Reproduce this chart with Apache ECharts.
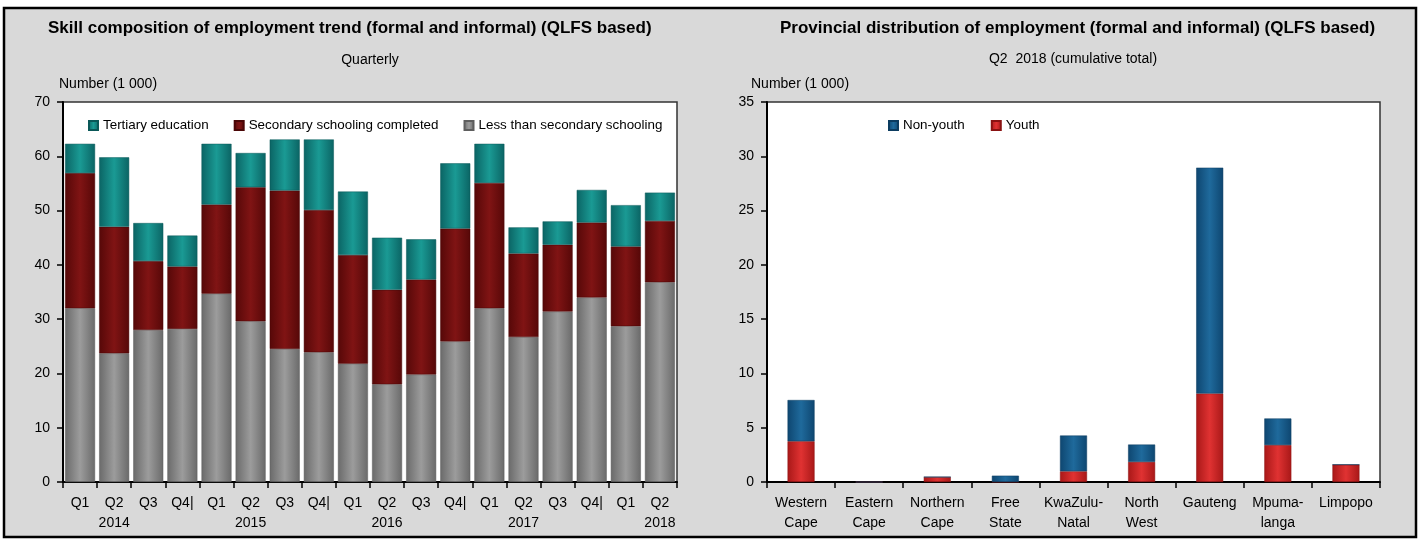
<!DOCTYPE html>
<html>
<head>
<meta charset="utf-8">
<script src="https://cdn.jsdelivr.net/npm/echarts@6/dist/echarts.min.js"></script>
<style>
html,body{margin:0;padding:0;background:#fff;}
#c{width:1419px;height:540px;}
</style>
</head>
<body>
<div id="c"></div>
<script>
// ---- Left chart data ----
const quarters = ['Q1','Q2\n2014','Q3','Q4|','Q1','Q2\n2015','Q3','Q4|','Q1','Q2\n2016','Q3','Q4|','Q1','Q2\n2017','Q3','Q4|','Q1','Q2\n2018'];
const lessThanSecondary = [32.0,23.7,28.0,28.2,34.7,29.6,24.5,23.9,21.8,18.0,19.8,25.9,32.0,26.7,31.4,34.0,28.7,36.8];
const secondaryCompleted = [24.9,23.3,12.7,11.5,16.4,24.7,29.2,26.2,20.0,17.4,17.5,20.8,23.1,15.4,12.3,13.8,14.7,11.3];
const tertiary = [5.4,12.8,7.0,5.7,11.2,6.3,9.4,13.0,11.7,9.6,7.4,12.0,7.2,4.8,4.3,6.0,7.6,5.2];
const leftTicks = [0,10,20,30,40,50,60,70];

// ---- Right chart data ----
const provinces = ['Western\nCape','Eastern\nCape','Northern\nCape','Free\nState','KwaZulu-\nNatal','North\nWest','Gauteng','Mpuma-\nlanga','Limpopo'];
const youth = [3.75,0,0.46,0,0.98,1.85,8.15,3.4,1.6];
const nonYouth = [3.8,0,0,0.58,3.3,1.6,20.8,2.45,0];
const rightTicks = [0,5,10,15,20,25,30,35];

const FONT = 'Liberation Sans, Arial, sans-serif';

function hgrad(edge, mid){
  return {type:'linear',x:0,y:0,x2:1,y2:0,colorStops:[
    {offset:0,color:edge},{offset:0.5,color:mid},{offset:1,color:edge}]};
}

const chart = echarts.init(document.getElementById('c'), null, {renderer:'canvas'});

const axisCommon = {
  axisLine:{show:true,onZero:false,lineStyle:{color:'#000',width:2}},
  axisTick:{show:true,length:6,lineStyle:{color:'#000',width:1.5}},
  splitLine:{show:false},
  axisLabel:{color:'#000',fontSize:14,fontFamily:FONT}
};

const option = {
  animation:false,
  backgroundColor:'#fff',
  textStyle:{fontFamily:FONT},
  graphic:[
    {type:'rect',z:-10,shape:{x:4,y:8,width:1412,height:529},style:{fill:'#d9d9d9',stroke:'#000',lineWidth:2.5}},
    {type:'text',x:48,y:28,style:{text:'Skill composition of employment trend (formal and informal) (QLFS based)',font:'bold 17px '+FONT,fill:'#000',verticalAlign:'middle'}},
    {type:'text',x:370,y:60,style:{text:'Quarterly',font:'14px '+FONT,fill:'#000',align:'center',verticalAlign:'middle'}},
    {type:'text',x:59,y:84,style:{text:'Number (1 000)',font:'14px '+FONT,fill:'#000',verticalAlign:'middle'}},
    {type:'text',x:780,y:28,style:{text:'Provincial distribution of employment (formal and informal) (QLFS based)',font:'bold 17px '+FONT,fill:'#000',verticalAlign:'middle'}},
    {type:'text',x:1073,y:59,style:{text:'Q2  2018 (cumulative total)',font:'14px '+FONT,fill:'#000',align:'center',verticalAlign:'middle'}},
    {type:'text',x:751,y:84,style:{text:'Number (1 000)',font:'14px '+FONT,fill:'#000',verticalAlign:'middle'}}
  ],
  legend:[
    {left:88,top:119,padding:0,icon:'rect',itemWidth:9,itemHeight:9,itemGap:25,
     data:['Tertiary education','Secondary schooling completed','Less than secondary schooling'],
     textStyle:{color:'#000',fontSize:13.4,fontFamily:FONT}},
    {left:888,top:119,padding:0,icon:'rect',itemWidth:9,itemHeight:9,itemGap:26,
     data:['Non-youth','Youth'],
     textStyle:{color:'#000',fontSize:13.4,fontFamily:FONT}}
  ],
  grid:[
    {left:63,right:742,top:102,bottom:58,show:true,backgroundColor:'#fff',borderColor:'#333',borderWidth:1.5},
    {left:767,right:39,top:102,bottom:58,show:true,backgroundColor:'#fff',borderColor:'#333',borderWidth:1.5}
  ],
  xAxis:[
    Object.assign({}, axisCommon, {type:'category',gridIndex:0,data:quarters,
      axisLabel:{color:'#000',fontSize:14,fontFamily:FONT,lineHeight:20,margin:11,interval:0}}),
    Object.assign({}, axisCommon, {type:'category',gridIndex:1,data:provinces,
      axisLabel:{color:'#000',fontSize:14,fontFamily:FONT,lineHeight:20,margin:11,interval:0}})
  ],
  yAxis:[
    Object.assign({}, axisCommon, {type:'value',gridIndex:0,min:leftTicks[0],max:leftTicks[leftTicks.length-1],interval:10,
      axisLabel:{color:'#000',fontSize:14,fontFamily:FONT,margin:13}}),
    Object.assign({}, axisCommon, {type:'value',gridIndex:1,min:rightTicks[0],max:rightTicks[rightTicks.length-1],interval:5,
      axisLabel:{color:'#000',fontSize:14,fontFamily:FONT,margin:13}})
  ],
  series:[
    {name:'Less than secondary schooling',type:'bar',stack:'a',xAxisIndex:0,yAxisIndex:0,barWidth:30,
     data:lessThanSecondary,itemStyle:{color:hgrad('#6a6a6a','#9c9c9c'),borderColor:'#5e5e5e',borderWidth:0.5}},
    {name:'Secondary schooling completed',type:'bar',stack:'a',xAxisIndex:0,yAxisIndex:0,barWidth:30,
     data:secondaryCompleted,itemStyle:{color:hgrad('#560808','#801414'),borderColor:'#4a0606',borderWidth:0.5}},
    {name:'Tertiary education',type:'bar',stack:'a',xAxisIndex:0,yAxisIndex:0,barWidth:30,
     data:tertiary,itemStyle:{color:hgrad('#0b6464','#1a9a94'),borderColor:'#0a5858',borderWidth:0.5}},
    {name:'Youth',type:'bar',stack:'b',xAxisIndex:1,yAxisIndex:1,barWidth:27,
     data:youth,itemStyle:{color:hgrad('#a81818','#e03232'),borderColor:'#8a1212',borderWidth:0.5}},
    {name:'Non-youth',type:'bar',stack:'b',xAxisIndex:1,yAxisIndex:1,barWidth:27,
     data:nonYouth,itemStyle:{color:hgrad('#0e4670','#1f6a9c'),borderColor:'#0c3c60',borderWidth:0.5}}
  ]
};
chart.setOption(option);
</script>
</body>
</html>
